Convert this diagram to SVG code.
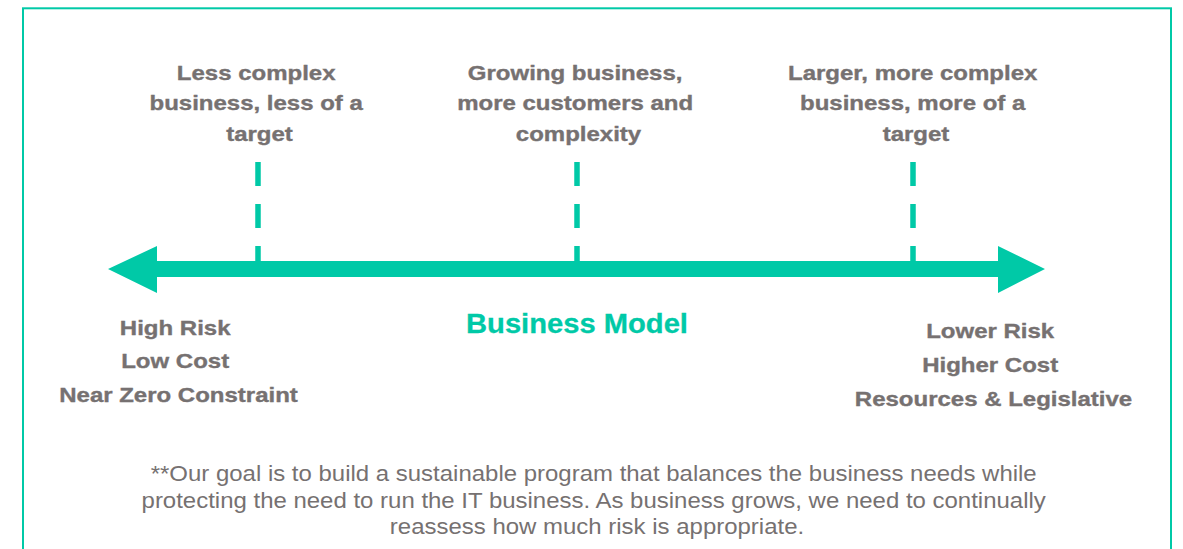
<svg xmlns="http://www.w3.org/2000/svg" width="1183" height="549" viewBox="0 0 1183 549">
  <defs>
    <style>
      .lbl { font-family: "Liberation Sans", Arial, sans-serif; font-weight: bold; font-size: 20px; fill: #767171; stroke: #767171; stroke-width: 0.35; text-anchor: middle; }
      .title { font-family: "Liberation Sans", Arial, sans-serif; font-weight: bold; font-size: 27px; fill: #00C9A7; stroke: #00C9A7; stroke-width: 0.3; text-anchor: middle; }
      .para { font-family: "Liberation Sans", Arial, sans-serif; font-size: 22px; fill: #767171; text-anchor: middle; }
      .dash { stroke: #00C9A7; stroke-width: 5.5; stroke-dasharray: 24 18; fill: none; }
      .frame { fill: none; stroke: #00C9A7; stroke-width: 2; }
    </style>
  </defs>
  <rect width="1183" height="549" fill="#ffffff"/>
  <rect class="frame" x="23" y="8.3" width="1148" height="600"/>

  <g id="connectors">
    <line class="dash" x1="258" y1="162" x2="258" y2="262"/>
    <line class="dash" x1="577" y1="162" x2="577" y2="262"/>
    <line class="dash" x1="913" y1="162" x2="913" y2="262"/>
    <path id="axis-arrow" d="M108,269 L157,246 L157,261 L998,261 L998,246 L1045,269 L998,293 L998,277 L157,277 L157,293 Z" fill="#00C9A7"/>
  </g>

  <g id="node-less-complex">
    <text class="lbl" transform="translate(259.5 0) scale(1.2 1)">
      <tspan x="0" y="80">Less complex</tspan>
      <tspan x="0" y="110.5">business, less of a</tspan>
      <tspan x="0" y="141">target</tspan>
    </text>
  </g>
  <g id="node-growing">
    <text class="lbl" transform="translate(578.5 0) scale(1.2 1)">
      <tspan x="0" y="80">Growing business,</tspan>
      <tspan x="0" y="110.5">more customers and</tspan>
      <tspan x="0" y="141">complexity</tspan>
    </text>
  </g>
  <g id="node-larger">
    <text class="lbl" transform="translate(916 0) scale(1.2 1)">
      <tspan x="0" y="80">Larger, more complex</tspan>
      <tspan x="0" y="110.5">business, more of a</tspan>
      <tspan x="0" y="141">target</tspan>
    </text>
  </g>

  <g id="node-high-risk">
    <text class="lbl" transform="translate(178.5 0) scale(1.2 1)">
      <tspan x="0" y="335">High Risk</tspan>
      <tspan x="0" y="368.5">Low Cost</tspan>
      <tspan x="0" y="402">Near Zero Constraint</tspan>
    </text>
  </g>
  <g id="node-business-model">
    <text class="title" transform="translate(577 0) scale(1.08 1)" x="0" y="333">Business Model</text>
  </g>
  <g id="node-lower-risk">
    <text class="lbl" transform="translate(993.5 0) scale(1.2 1)">
      <tspan x="0" y="338">Lower Risk</tspan>
      <tspan x="0" y="372">Higher Cost</tspan>
      <tspan x="0" y="406">Resources &amp; Legislative</tspan>
    </text>
  </g>

  <g id="node-note">
    <text class="para" transform="translate(597 0) scale(1.09 1)">
      <tspan x="0" y="481.5">**Our goal is to build a sustainable program that balances the business needs while</tspan>
      <tspan x="0" y="508">protecting the need to run the IT business. As business grows, we need to continually</tspan>
      <tspan x="0" y="534.5">reassess how much risk is appropriate.</tspan>
    </text>
  </g>
</svg>
